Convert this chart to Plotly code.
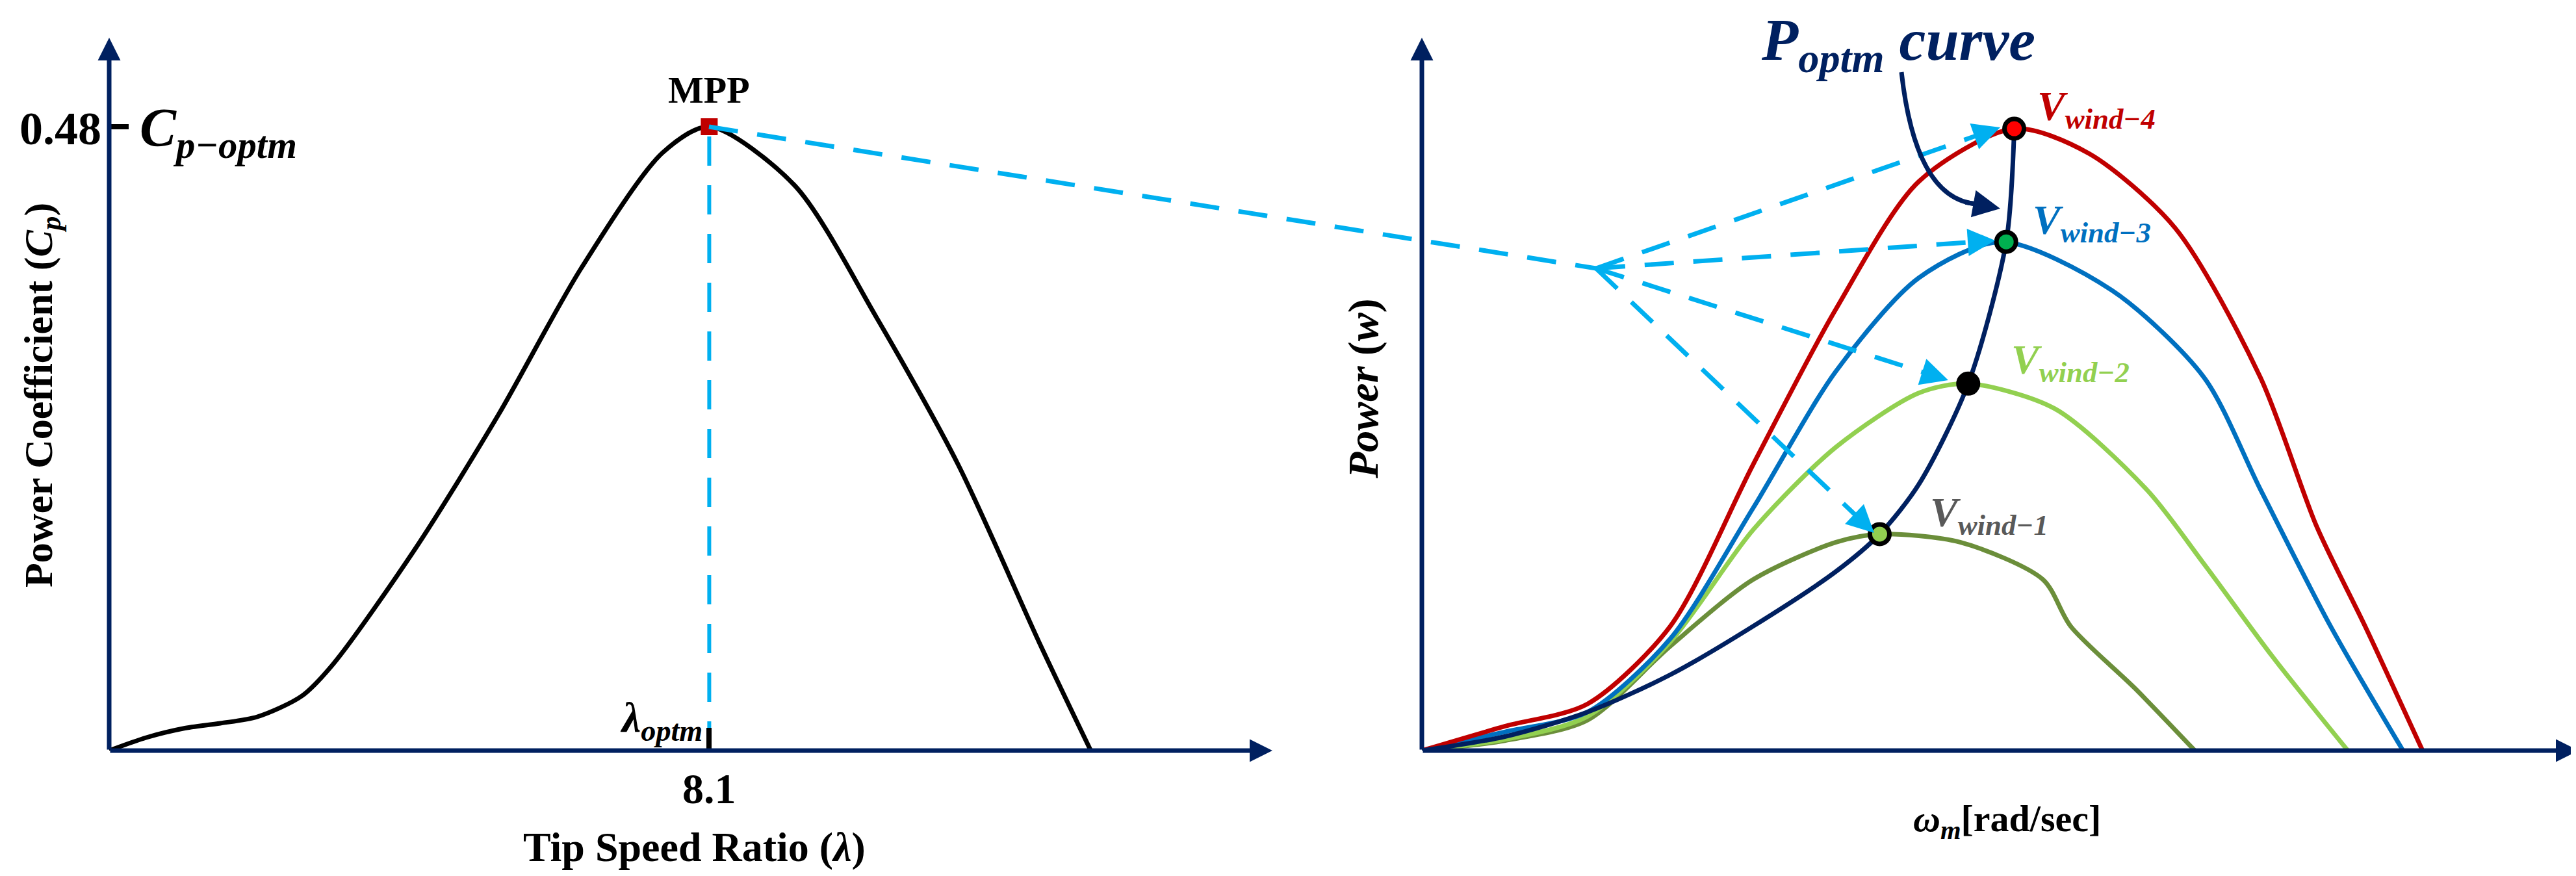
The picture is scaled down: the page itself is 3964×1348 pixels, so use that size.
import plotly.graph_objects as go

W, H = 3964, 1348
# ---- data ----
lam = [0, 0.5, 1, 1.5, 2, 2.6, 3.03, 4.14, 5.25, 6.37, 7.47, 8.1, 9.25, 10.36, 11.46, 12.58, 13.25]
cp = [0, 0.01, 0.017, 0.021, 0.026, 0.042, 0.067, 0.156, 0.258, 0.371, 0.46, 0.48, 0.435, 0.333, 0.22, 0.08, 0]
lam_opt, cp_opt = 8.1, 0.48

w_red = [0, 7.2, 14.4, 21.6, 28.8, 36, 43.2, 51.5, 58, 65.5, 72.9, 77.8, 82, 87]
p_red = [0, 0.039, 0.075, 0.20, 0.46, 0.71, 0.915, 1.0, 0.96, 0.84, 0.6, 0.36, 0.2, 0]
w_blue = [0, 7.2, 14.4, 21.6, 28.8, 36, 43.2, 50.4, 60, 68, 72.9, 79, 85.3]
p_blue = [0, 0.03, 0.062, 0.18, 0.39, 0.61, 0.76, 0.818, 0.74, 0.6, 0.42, 0.2, 0]
w_lg = [0, 7.2, 14.4, 21.6, 28.8, 36, 43.2, 47.5, 55, 63, 68, 74, 80.5]
p_lg = [0, 0.018, 0.055, 0.175, 0.355, 0.488, 0.575, 0.59, 0.55, 0.42, 0.3, 0.15, 0]
w_ol = [0, 7.2, 14.4, 21.6, 28.8, 36, 39.8, 46.8, 54, 56.4, 62, 67.2]
p_ol = [0, 0.016, 0.049, 0.168, 0.275, 0.335, 0.348, 0.335, 0.275, 0.2, 0.1, 0]
w_opt = [0, 7.2, 14.4, 21.6, 28.8, 36, 39.8, 43.2, 47.5, 50.8, 51.5]
p_opt = [0, 0.0225, 0.062, 0.122, 0.2, 0.288, 0.348, 0.428, 0.59, 0.818, 1.0]
mpp_w = [39.8, 47.5, 50.8, 51.5]
mpp_p = [0.348, 0.59, 0.818, 1.0]
mpp_fill = ['#92D050', 'black', '#00B050', '#FF0000']

NAVY = '#002060'; DASH = '#00B0F0'
def X(px): return px / W
def Y(py): return 1 - py / H

fig = go.Figure()
fig.add_trace(go.Scatter(x=lam, y=cp, mode='lines', line=dict(color='black', width=7, shape='spline', smoothing=0.8),
                         xaxis='x', yaxis='y', showlegend=False))
fig.add_trace(go.Scatter(x=[lam_opt, lam_opt], y=[0, cp_opt], mode='lines',
                         line=dict(color=DASH, width=6, dash='45px,30px'), xaxis='x', yaxis='y', showlegend=False))
fig.add_trace(go.Scatter(x=[lam_opt], y=[cp_opt], mode='markers', marker=dict(symbol='square', color='#C00000', size=26),
                         xaxis='x', yaxis='y', showlegend=False))
for wx, py_, c in [(w_ol, p_ol, '#6B8E3A'), (w_lg, p_lg, '#92D050'), (w_blue, p_blue, '#0070C0'), (w_red, p_red, '#C00000')]:
    fig.add_trace(go.Scatter(x=wx, y=py_, mode='lines', line=dict(color=c, width=7, shape='spline', smoothing=0.8),
                             xaxis='x2', yaxis='y2', showlegend=False))
fig.add_trace(go.Scatter(x=w_opt, y=p_opt, mode='lines', line=dict(color=NAVY, width=7, shape='spline', smoothing=0.8),
                         xaxis='x2', yaxis='y2', showlegend=False))
fig.add_trace(go.Scatter(x=mpp_w, y=mpp_p, mode='markers',
                         marker=dict(size=30, color=mpp_fill, line=dict(color='black', width=7)),
                         xaxis='x2', yaxis='y2', showlegend=False))

ydom = [Y(1147), Y(60)]
fig.update_layout(
    width=W, height=H, margin=dict(l=0, r=0, t=0, b=0), plot_bgcolor='white', paper_bgcolor='white',
    xaxis=dict(domain=[X(160), X(1930)], range=[0, (1930 - 160) / 114], visible=False),
    yaxis=dict(domain=ydom, range=[0, 1087 / 2000], visible=False),
    xaxis2=dict(domain=[X(2180), X(3950)], range=[0, 100], visible=False),
    yaxis2=dict(domain=ydom, range=[0, 1087 / 957], anchor='x2', visible=False),
)

anns = []
def arrow(x0, y0, x1, y1, color, width=5, head=2, size=1.2):
    anns.append(dict(x=X(x1), y=Y(y1), xref='paper', yref='paper', ax=x0 - x1, ay=y0 - y1, axref='pixel', ayref='pixel',
                     showarrow=True, arrowhead=head, arrowsize=size, arrowwidth=width, arrowcolor=color, text=''))
arrow(160, 1147, 160, 50, NAVY, 7, 2, 1.0)
arrow(160, 1147, 1950, 1147, NAVY, 7, 2, 1.0)
arrow(2180, 1147, 2180, 50, NAVY, 7, 2, 1.0)
arrow(2180, 1147, 3960, 1147, NAVY, 7, 2, 1.0)

shapes = []
def seg(x0, y0, x1, y1, color, width=6, dash='45px,30px'):
    shapes.append(dict(type='line', xref='paper', yref='paper', x0=X(x0), y0=Y(y0), x1=X(x1), y1=Y(y1),
                       line=dict(color=color, width=width, dash=dash)))
seg(160, 187, 190, 187, 'black', 8, 'solid')
seg(1083, 1112, 1083, 1147, 'black', 8, 'solid')
hub = (2448, 405)
seg(1083, 187, hub[0], hub[1], DASH, 7)
for tx, ty in [(3070, 188), (3062, 362), (2990, 577), (2876, 812)]:
    dx, dy = tx - hub[0], ty - hub[1]
    L = (dx * dx + dy * dy) ** 0.5
    seg(hub[0], hub[1], tx - dx / L * 35, ty - dy / L * 35, DASH, 7)
    arrow(tx - dx / L * 40, ty - dy / L * 40, tx, ty, DASH, 6, 2, 1.4)
shapes.append(dict(type='path', xref='paper', yref='paper',
                   path=f'M {X(2918)},{Y(103)} Q {X(2940)},{Y(300)} {X(3035)},{Y(306)}',
                   line=dict(color=NAVY, width=7)))
arrow(3015, 303, 3070, 313, NAVY, 7, 2, 1.2)

SERIF = 'Liberation Serif'
def txt(px, py, s, size, color='black', xanchor='center', yanchor='middle', angle=0, family=SERIF):
    anns.append(dict(x=X(px), y=Y(py), xref='paper', yref='paper', text=s, showarrow=False, xanchor=xanchor,
                     yanchor=yanchor, textangle=angle, font=dict(family=family, size=size, color=color)))
txt(150, 190, '<b>0.48</b>', 72, xanchor='right')
txt(205, 195, '<b><i>C<sub>p−optm</sub></i></b>', 84, xanchor='left')
txt(1083, 130, '<b>MPP</b>', 58)
txt(1075, 1100, '<b><i>λ<sub>optm</sub></i></b>', 66, xanchor='right')
txt(1083, 1205, '<b>8.1</b>', 66)
txt(1060, 1295, '<b>Tip Speed Ratio (<i>λ</i>)</b>', 64)
txt(55, 600, '<b>Power Coefficient (<i>C<sub>p</sub></i>)</b>', 62, angle=-90)
txt(2090, 590, '<b><i>Power</i> (<i>w</i>)</b>', 66, angle=-90)
txt(3080, 1255, '<b><i>ω<sub>m</sub></i>[rad/sec]</b>', 58)
txt(2700, 60, '<b><i>P<sub>optm</sub> curve</i></b>', 92, NAVY, xanchor='left')
txt(3125, 160, '<b><i>V<sub>wind−4</sub></i></b>', 64, '#C00000', xanchor='left')
txt(3118, 335, '<b><i>V<sub>wind−3</sub></i></b>', 64, '#0070C0', xanchor='left')
txt(3085, 550, '<b><i>V<sub>wind−2</sub></i></b>', 64, '#92D050', xanchor='left')
txt(2960, 785, '<b><i>V<sub>wind−1</sub></i></b>', 64, '#595959', xanchor='left')

fig.update_layout(annotations=anns, shapes=shapes)
fig.write_html('out.html')
